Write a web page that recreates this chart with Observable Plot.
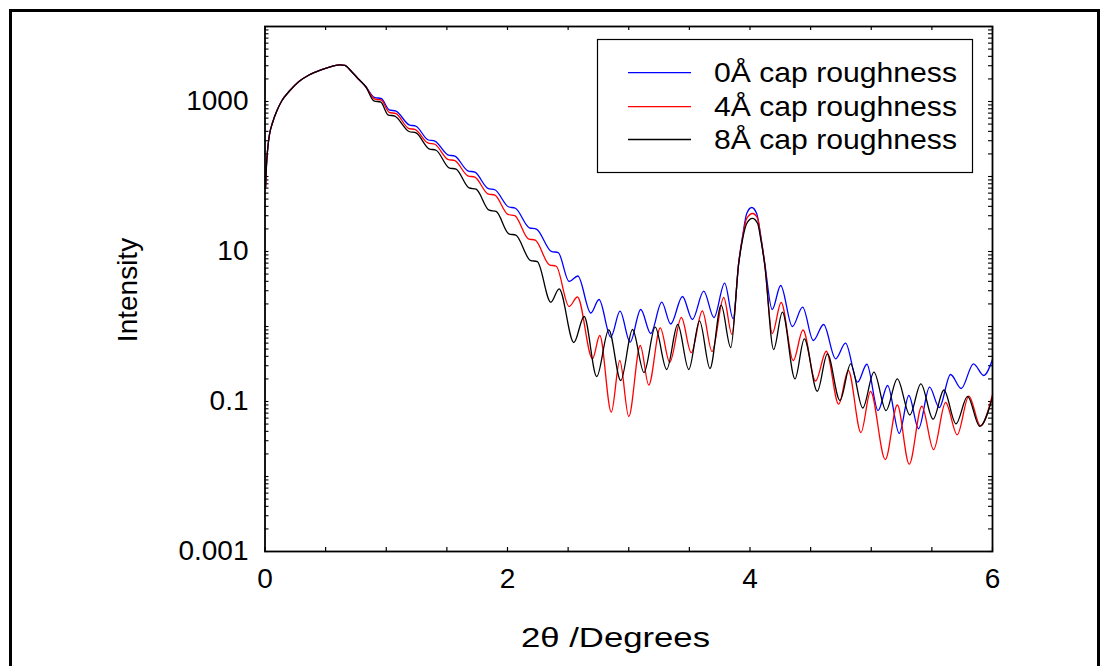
<!DOCTYPE html>
<html><head><meta charset="utf-8">
<script src="https://cdn.jsdelivr.net/npm/d3@7"></script>
<script src="https://cdn.jsdelivr.net/npm/@observablehq/plot@0.6"></script>
<style>
html,body{margin:0;padding:0;background:#fff;overflow:hidden}
#wrap{position:relative;width:1100px;height:666px;font-family:"Liberation Sans",Arial,Helvetica,sans-serif}
#wrap > svg{position:absolute;left:0;top:0}
#border{position:absolute;left:9px;top:9px;width:1091px;height:720px;box-sizing:border-box;border:3px solid #000;border-bottom:none;pointer-events:none;z-index:5}
</style></head><body><div id="wrap"><div id="border"></div></div>
<script>
// Shared initial rise (all three curves coincide): [2theta (deg), intensity]
const rise = [[0.004,69.2],[0.012,140.2],[0.021,222],[0.037,363],[0.060,509],[0.099,759],[0.140,1031],[0.198,1359],[0.280,1848],[0.363,2256],[0.462,2646],[0.552,2947],[0.618,3086],[0.659,3020],[0.717,2473],[0.775,1965],[0.830,1585]];

// 0 Å cap roughness (blue)
const cap0 = [[0.902,1137],[0.960,1089],[1.024,775],[1.081,743],[1.188,489],[1.246,468],[1.343,309],[1.401,296],[1.508,194.6],[1.566,186.5],[1.673,119.1],[1.731,114.1],[1.838,69.6],[1.896,66.6],[2.007,39.5],[2.065,37.7],[2.180,20.7],[2.238,19.9],[2.361,10.06],[2.419,9.64],
[2.508,3.98],[2.580,4.71],[2.687,1.513],[2.755,2.291],[2.852,0.720],[2.928,1.600],[3.011,0.618],[3.099,1.685],[3.181,0.807],[3.272,2.109],[3.346,1.079],[3.443,2.512],[3.525,1.240],[3.618,2.956],[3.703,1.318],[3.791,3.779],[3.861,1.266],[3.907,7.13],[3.940,16.34],[3.973,32.1],[4.014,38.6],[4.055,32.1],[4.088,16.34],[4.121,7.13],[4.183,1.685],[4.253,3.522],[4.349,1.000],[4.434,1.808],[4.522,0.651],[4.607,1.063],[4.706,0.371],[4.788,0.599],[4.887,0.1809],[4.964,0.314],[5.056,0.0758],[5.135,0.1634],[5.231,0.0375],[5.310,0.1202],[5.390,0.0433],[5.481,0.1552],[5.561,0.0831],[5.654,0.2292],[5.742,0.1490],[5.843,0.3181],[5.928,0.2222],[6.000,0.3630]];

// 4 Å cap roughness (red)
const cap4 = [[0.902,1087],[0.960,1040],[1.024,717],[1.081,688],[1.183,439],[1.240,421],[1.343,281],[1.401,269],[1.508,169.6],[1.566,162.4],[1.673,102.2],[1.731,97.9],[1.838,58.8],[1.896,56.3],[2.003,31.3],[2.060,30.0],[2.172,14.77],[2.229,14.15],[2.345,6.65],[2.402,6.36],
[2.508,1.849],[2.577,2.474],[2.701,0.371],[2.761,0.759],[2.856,0.0720],[2.926,0.352],[3.000,0.0631],[3.095,0.558],[3.165,0.1659],[3.260,0.960],[3.338,0.334],[3.434,1.318],[3.515,0.450],[3.607,1.609],[3.687,0.464],[3.783,2.435],[3.851,0.783],[3.907,7.13],[3.940,15.85],[3.973,27.6],[4.022,32.1],[4.063,27.6],[4.088,15.85],[4.121,6.92],[4.184,0.807],[4.257,2.089],[4.357,0.352],[4.437,0.898],[4.541,0.1877],[4.629,0.468],[4.731,0.0920],[4.811,0.259],[4.915,0.0386],[4.994,0.1359],[5.116,0.01686],[5.215,0.0898],[5.313,0.01458],[5.417,0.0864],[5.514,0.0228],[5.613,0.0970],[5.709,0.0360],[5.805,0.1183],[5.901,0.0472],[6.000,0.1240]];

// 8 Å cap roughness (black)
const cap8 = [[0.898,1022],[0.956,979],[1.014,665],[1.071,637],[1.188,398],[1.246,381],[1.353,234],[1.411,224],[1.518,130.7],[1.576,125.2],[1.683,70.6],[1.741,67.7],[1.848,35.6],[1.906,34.2],[2.011,17.22],[2.069,16.50],[2.188,7.63],[2.246,7.31],
[2.357,2.109],[2.426,3.183],[2.547,0.612],[2.632,1.359],[2.736,0.2155],[2.835,0.904],[2.934,0.1905],[3.031,0.912],[3.126,0.2436],[3.218,0.979],[3.313,0.2670],[3.404,1.063],[3.495,0.2670],[3.584,1.191],[3.670,0.2755],[3.762,1.923],[3.841,0.525],[3.907,6.92],[3.940,14.90],[3.973,23.6],[4.020,27.6],[4.063,23.6],[4.088,14.90],[4.121,6.71],[4.195,0.493],[4.267,1.551],[4.371,0.2008],[4.448,0.685],[4.555,0.1372],[4.638,0.432],[4.742,0.1031],[4.830,0.318],[4.930,0.0819],[5.022,0.2459],[5.122,0.0758],[5.215,0.2008],[5.318,0.0661],[5.409,0.1722],[5.510,0.0581],[5.599,0.1424],[5.699,0.0504],[5.794,0.1173],[5.895,0.0467],[6.000,0.1131]];

const seriesNames = ["0Å cap roughness", "4Å cap roughness", "8Å cap roughness"];
const seriesColors = ["#0000ff", "#ff0000", "#000000"];
const xTickValues = [0, 2, 4, 6];
const xTickMarks = [0, 0.5, 1, 1.5, 2, 2.5, 3, 3.5, 4, 4.5, 5, 5.5, 6];
const yTickValues = [0.001, 0.1, 10, 1000];
const yTickLabels = ["0.001", "0.1", "10", "1000"];
const yDecades = [0.001, 0.01, 0.1, 1, 10, 100, 1000];
const xTitle = "2θ /Degrees";
const yTitle = "Intensity";

const yTickMarks = [];
yDecades.forEach(d => { for (let k = 1; k <= 9; k++) yTickMarks.push(d * k); });
yTickMarks.push(10000);

const rows = [];
[cap0, cap4, cap8].forEach((s, i) => {
  rise.concat(s).forEach(([x, y]) => rows.push({x, y, series: seriesNames[i]}));
});

const W = 1100, H = 666, mL = 264.5, mR = 108, mT = 26, mB = 115;
const fw = W - mL - mR, fh = H - mT - mB;
const font = '"Liberation Sans", Arial, Helvetica, sans-serif';

const chart = Plot.plot({
  width: W, height: H,
  marginLeft: mL, marginRight: mR, marginTop: mT, marginBottom: mB,
  style: {fontFamily: font, fontSize: "28px", background: "transparent", color: "#000", overflow: "visible"},
  x: {domain: [0, 6]},
  y: {type: "log", domain: [0.001, 10000]},
  color: {domain: seriesNames, range: seriesColors},
  marks: [
    Plot.ruleX(xTickMarks, {x: d => d, insetTop: fh - 4, stroke: "#000", strokeWidth: 1.2}),
    Plot.ruleX(xTickMarks, {x: d => d, insetBottom: fh - 4, stroke: "#000", strokeWidth: 1.2}),
    Plot.ruleY(yTickMarks, {y: d => d, insetRight: fw - 4, stroke: "#000", strokeWidth: 1.1}),
    Plot.ruleY(yTickMarks, {y: d => d, insetLeft: fw - 4, stroke: "#000", strokeWidth: 1.1}),
    Plot.line(rows, {x: "x", y: "y", z: "series", stroke: "series", curve: "monotone-x", strokeWidth: 1.3}),
    Plot.frame({stroke: "#000", strokeWidth: 1.8}),
    Plot.axisX({ticks: xTickValues, anchor: "bottom", tickSize: 0, tickPadding: 17, fontSize: 28, tickFormat: d => String(d), label: null}),
    Plot.axisY({ticks: yTickValues, anchor: "left", tickSize: 0, tickPadding: 16.5, fontSize: 28,
      tickFormat: d => yTickLabels[yTickValues.indexOf(d)], label: null})
  ]
});
document.getElementById("wrap").appendChild(chart);

// Overlay: legend and axis titles
const svg = d3.select("#wrap").append("svg").attr("width", W).attr("height", H)
  .style("font-family", font);
const lg = svg.append("g");
lg.append("rect").attr("x", 597.5).attr("y", 39.5).attr("width", 375).attr("height", 133)
  .attr("fill", "#fff").attr("stroke", "#000").attr("stroke-width", 1.2);
const legendRowY = [72.7, 106.7, 139.5];
seriesNames.forEach((name, i) => {
  lg.append("line").attr("x1", 628).attr("x2", 691).attr("y1", legendRowY[i]).attr("y2", legendRowY[i])
    .attr("stroke", seriesColors[i]).attr("stroke-width", 1.3);
  lg.append("text").attr("x", 714).attr("y", legendRowY[i] + 9.3).attr("font-size", 27.5)
    .attr("textLength", 243).attr("lengthAdjust", "spacingAndGlyphs").attr("fill", "#000").text(name);
});
svg.append("text").attr("transform", "translate(137,290) rotate(-90)").attr("text-anchor", "middle")
  .attr("font-size", 28).attr("fill", "#000").text(yTitle);
svg.append("text").attr("x", 521).attr("y", 647).attr("font-size", 28)
  .attr("textLength", 189).attr("lengthAdjust", "spacingAndGlyphs").attr("fill", "#000").text(xTitle);
</script></body></html>
